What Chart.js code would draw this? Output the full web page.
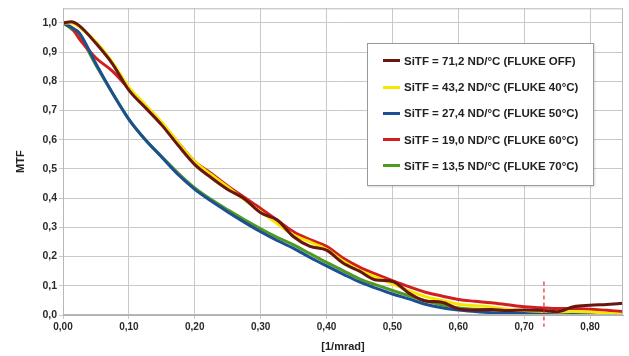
<!DOCTYPE html>
<html>
<head>
<meta charset="utf-8">
<script src="https://cdn.jsdelivr.net/npm/chart.js@4"></script>
<style>
  body { margin: 0; background: #fff; font-family: "Liberation Sans", Arial, sans-serif; }
  #wrap { position: relative; width: 629px; height: 356px; }
  #legend {
    position: absolute; left: 367px; top: 43px; width: 225px; height: 141px;
    border: 1px solid #9a9a9a; background: #fff; box-shadow: 1px 1px 2px rgba(0,0,0,0.15);
  }
  .item { position: absolute; left: 15px; height: 14px; font-weight: bold; font-size: 11.5px; color: #222; white-space: nowrap; }
  .item span.sw { display: inline-block; width: 17px; height: 3px; vertical-align: middle; margin-right: 4px; position: relative; top: -1px; }
</style>
</head>
<body>
<div id="wrap">
  <canvas id="mtf" width="629" height="356"></canvas>
  <div id="legend"></div>
</div>
<script>
// spatial frequency [1/mrad]
const freq = [0, 0.0125, 0.025, 0.05, 0.075, 0.10, 0.125, 0.15, 0.175, 0.20, 0.225, 0.25, 0.275, 0.30,
  0.325, 0.35, 0.375, 0.40, 0.425, 0.45, 0.475, 0.50, 0.525, 0.55, 0.575, 0.60, 0.625, 0.65,
  0.675, 0.70, 0.725, 0.75, 0.775, 0.80, 0.825, 0.85];

// MTF curves
const mtfOff = [1.0, 1.004, 0.99, 0.93, 0.86, 0.77, 0.71, 0.65, 0.58, 0.515, 0.47, 0.43, 0.398, 0.35,
  0.325, 0.268, 0.235, 0.222, 0.178, 0.15, 0.12, 0.115, 0.075, 0.048, 0.044, 0.021, 0.017, 0.019,
  0.015, 0.017, 0.016, 0.011, 0.028, 0.033, 0.036, 0.04];
const mtf40 = [1.0, 1.0, 0.985, 0.935, 0.865, 0.78, 0.72, 0.66, 0.59, 0.525, 0.48, 0.438, 0.395, 0.353,
  0.313, 0.274, 0.25, 0.225, 0.185, 0.153, 0.13, 0.107, 0.083, 0.063, 0.05, 0.037, 0.032, 0.027,
  0.02, 0.015, 0.013, 0.01, 0.012, 0.01, 0.006, 0.002];
const mtf50 = [1.0, 0.985, 0.965, 0.86, 0.76, 0.67, 0.60, 0.54, 0.48, 0.43, 0.39, 0.353, 0.318, 0.285,
  0.255, 0.228, 0.197, 0.168, 0.14, 0.113, 0.092, 0.072, 0.055, 0.037, 0.025, 0.017, 0.012, 0.008,
  0.006, 0.005, 0.004, 0.004, 0.003, 0.003, 0.002, 0.0];
const mtf60 = [1.0, 0.985, 0.945, 0.88, 0.835, 0.775, 0.715, 0.655, 0.59, 0.525, 0.485, 0.442, 0.403, 0.365,
  0.325, 0.285, 0.258, 0.235, 0.195, 0.164, 0.14, 0.118, 0.097, 0.078, 0.065, 0.053, 0.047, 0.042,
  0.035, 0.028, 0.025, 0.022, 0.022, 0.02, 0.016, 0.012];
const mtf70 = [1.0, 0.98, 0.955, 0.855, 0.76, 0.67, 0.60, 0.542, 0.485, 0.435, 0.395, 0.36, 0.327, 0.295,
  0.266, 0.24, 0.21, 0.18, 0.152, 0.124, 0.103, 0.084, 0.066, 0.049, 0.035, 0.024, 0.02, 0.017,
  0.014, 0.012, 0.01, 0.008, 0.009, 0.007, 0.005, 0.003];

const seriesNames = [
  'SiTF = 71,2 ND/°C (FLUKE OFF)',
  'SiTF = 43,2 ND/°C (FLUKE 40°C)',
  'SiTF = 27,4 ND/°C (FLUKE 50°C)',
  'SiTF = 19,0 ND/°C (FLUKE 60°C)',
  'SiTF = 13,5 ND/°C (FLUKE 70°C)'
];
const seriesValues = [mtfOff, mtf40, mtf50, mtf60, mtf70];
const seriesColors = ['#6a1610', '#f7e600', '#1d4f93', '#d11f1f', '#4f9a1f'];
const drawOrder = [0, 1, 2, 3, 4];

// red dashed cursor
const cursorX = [0.73, 0.73];
const cursorY = [0.115, -0.04];

const datasets = seriesValues.map((vals, i) => ({
  label: seriesNames[i],
  data: vals.map((v, k) => ({ x: freq[k], y: v })),
  borderColor: seriesColors[i],
  borderWidth: 3,
  pointRadius: 0,
  cubicInterpolationMode: 'monotone',
  order: drawOrder[i]
}));
datasets.push({
  label: 'cursor',
  data: cursorX.map((x, k) => ({ x: x, y: cursorY[k] })),
  borderColor: '#e8262a',
  borderWidth: 1.2,
  borderDash: [4, 3],
  pointRadius: 0,
  clip: false,
  order: -1
});

// html legend
const legend = document.getElementById('legend');
seriesNames.forEach((name, i) => {
  const d = document.createElement('div');
  d.className = 'item';
  d.style.top = (11 + i * 26.2) + 'px';
  d.innerHTML = `<span class="sw" style="background:${seriesColors[i]}"></span>${name}`;
  legend.appendChild(d);
});

const tickFont = { family: '"Liberation Sans", Arial, sans-serif', size: 10, weight: 'bold' };
const titleFont = { family: '"Liberation Sans", Arial, sans-serif', size: 11, weight: 'bold' };
const isTenth = v => Math.abs(v * 10 - Math.round(v * 10)) < 1e-6;

new Chart(document.getElementById('mtf'), {
  type: 'line',
  data: { datasets: datasets },
  options: {
    responsive: false,
    animation: false,
    layout: { padding: { top: 7, right: 6, left: 0, bottom: 0 } },
    plugins: { legend: { display: false }, tooltip: { enabled: false } },
    scales: {
      x: {
        type: 'linear',
        min: 0, max: 0.85,
        ticks: {
          stepSize: 0.1, includeBounds: false, color: '#2a2a2a', font: tickFont, padding: 2, maxRotation: 0, autoSkip: false,
          callback: v => isTenth(v) ? v.toFixed(2).replace('.', ',') : ''
        },
        grid: { color: '#c9c9c9', tickLength: 4 },
        border: { color: '#b0b0b0' },
        title: { display: true, text: '[1/mrad]', color: '#222', font: titleFont, padding: { top: 0, bottom: 2 } },
        afterFit: s => { s.height = 41; }
      },
      y: {
        min: 0, max: 1.05,
        ticks: {
          stepSize: 0.1, includeBounds: false, color: '#2a2a2a', font: { ...tickFont, size: 10.5 }, padding: 2, autoSkip: false,
          callback: v => isTenth(v) ? v.toFixed(1).replace('.', ',') : ''
        },
        grid: { color: '#c9c9c9', tickLength: 4 },
        border: { color: '#b0b0b0' },
        title: { display: true, text: 'MTF', color: '#222', font: titleFont, padding: { top: 14, bottom: 0 } },
        afterFit: s => { s.width = 63; }
      }
    }
  },
  plugins: [{
    id: 'frame',
    afterDraw(chart) {
      const { ctx, chartArea: a } = chart;
      ctx.save();
      ctx.strokeStyle = '#b8b8b8';
      ctx.lineWidth = 1;
      ctx.strokeRect(a.left + 0.5, a.top + 0.5, a.right - a.left - 1, a.bottom - a.top - 1);
      ctx.restore();
    }
  }]
});
</script>
</body>
</html>
